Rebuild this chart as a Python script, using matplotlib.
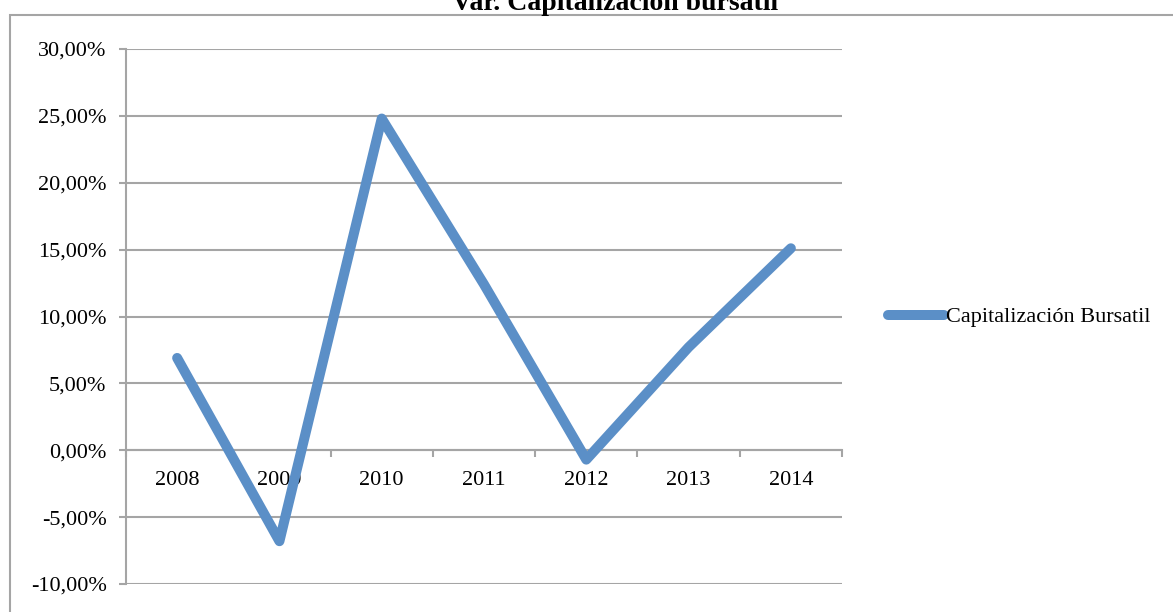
import matplotlib
matplotlib.use("Agg")
import matplotlib.pyplot as plt
from matplotlib.patches import Rectangle
from matplotlib.ticker import FixedLocator, NullFormatter, FuncFormatter

years = ["2008", "2009", "2010", "2011", "2012", "2013", "2014"]
values = [6.9, -6.8, 24.8, 12.4, -0.7, 7.7, 15.1]
series_name = "Capitalización Bursatil"
title = "Var. Capitalización bursatil"
y_ticks = [-10, -5, 0, 5, 10, 15, 20, 25, 30]

W, H = 1173, 612
fig = plt.figure(figsize=(W / 100, H / 100), dpi=100)
serif = ["Liberation Serif", "DejaVu Serif"]

grey = "#A5A5A5"
line_color = "#5B8FC7"

# chart frame (left/top visible)
fig.patches.append(Rectangle((10 / W, -0.2), 1.2, 1.2 - 15 / H,
                             transform=fig.transFigure, fill=False,
                             edgecolor=grey, lw=1.5))
fig.text(615 / W, 1 - 10 / H, title, ha="center", va="baseline",
         fontsize=20, fontweight="bold", family=serif)

ax = fig.add_axes([126 / W, 1 - 584 / H, (842 - 126) / W, (584 - 49) / H])
x = list(range(len(years)))
ax.plot(x, values, color=line_color, lw=7.2, solid_capstyle="round",
        solid_joinstyle="round", label=series_name, zorder=3, clip_on=False)

ax.set_xlim(-0.5, len(years) - 0.5)
ax.set_ylim(y_ticks[0], y_ticks[-1])
ax.set_yticks(y_ticks)
ax.yaxis.set_major_formatter(FuncFormatter(lambda v, p: f"{v:.2f}%".replace(".", ",")))
ax.grid(axis="y", color=grey, lw=1.5, zorder=0)
ax.set_axisbelow(True)

for s in ["top", "right"]:
    ax.spines[s].set_visible(False)
ax.spines["left"].set_color(grey)
ax.spines["left"].set_linewidth(1.5)
ax.spines["bottom"].set_position(("data", 0))
ax.spines["bottom"].set_color(grey)
ax.spines["bottom"].set_linewidth(1.5)

ax.xaxis.set_major_locator(FixedLocator([i - 0.5 for i in range(len(years) + 1)]))
ax.xaxis.set_major_formatter(NullFormatter())
ax.xaxis.set_minor_locator(FixedLocator(x))
ax.set_xticklabels(years, minor=True)
ax.tick_params(axis="x", which="major", direction="out", length=5, width=1.5, color=grey)
ax.tick_params(axis="x", which="minor", length=0, pad=15, labelsize=16)
ax.tick_params(axis="y", direction="out", length=5, width=1.5, color=grey,
               pad=9, labelsize=16)
for lab in ax.get_xticklabels(minor=True) + ax.get_yticklabels():
    lab.set_family(serif)

leg = ax.legend(loc="center left", bbox_to_anchor=(888 / W, 1 - 317 / H),
                bbox_transform=fig.transFigure, frameon=False,
                prop={"family": serif, "size": 16}, handlelength=2.5,
                handletextpad=0.1, borderpad=0, borderaxespad=0)
for h in leg.get_lines():
    h.set_linewidth(7.2)
    h.set_solid_capstyle("round")

fig.savefig("out.png", dpi=100)
